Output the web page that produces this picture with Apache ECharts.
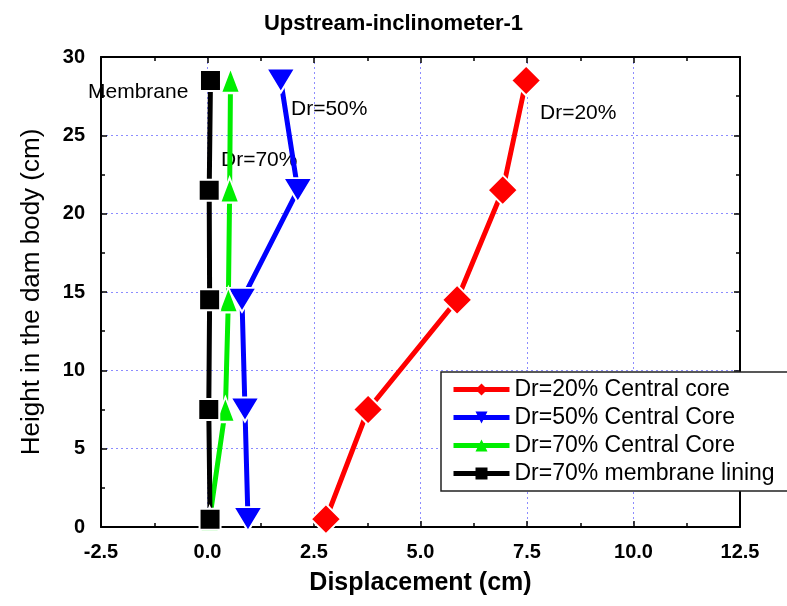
<!DOCTYPE html>
<html>
<head>
<meta charset="utf-8">
<script src="https://cdn.jsdelivr.net/npm/echarts@6/dist/echarts.min.js"></script>
<style>html,body{margin:0;padding:0;background:#fff}#c{width:787px;height:606px}</style>
</head>
<body>
<div id="c"></div>
<script>
const heights = [0.5, 7.5, 14.5, 21.5, 28.5];
const dr20Core = [2.78, 3.77, 5.86, 6.93, 7.48];
const dr50Core = [0.95, 0.88, 0.81, 2.12, 1.72];
const dr70Core = [0.05, 0.42, 0.49, 0.52, 0.54];
const dr70Membrane = [0.06, 0.03, 0.05, 0.04, 0.07];
const seriesNames = ['Dr=20% Central core', 'Dr=50% Central Core', 'Dr=70% Central Core', 'Dr=70% membrane lining'];
const xTicks = { min: -2.5, max: 12.5, interval: 2.5 };
const yTicks = { min: 0, max: 30, interval: 5 };

const FONT = 'Liberation Sans, Arial, sans-serif';
const pair = (xs) => xs.map((x, i) => [x, heights[i]]);

const chart = echarts.init(document.getElementById('c'), null, { renderer: 'canvas' });

const axisCommon = {
  axisLine: { show: true, onZero: false, lineStyle: { color: '#000', width: 2 } },
  axisTick: { show: true, inside: true, length: 6, lineStyle: { color: '#000', width: 1.5 } },
  minorTick: { show: true, splitNumber: 2, length: 4, lineStyle: { color: '#000', width: 1.5 } }
};
const gap = { borderColor: '#fff', borderWidth: 2 };

chart.setOption({
  animation: false,
  backgroundColor: '#fff',
  title: {
    text: 'Upstream-inclinometer-1',
    left: 'center', top: 8,
    textStyle: { fontFamily: FONT, fontWeight: 'bold', fontSize: 22, color: '#000' }
  },
  grid: { left: 101, right: 47, top: 57, bottom: 79 },
  xAxis: [
    Object.assign({
      type: 'value', position: 'bottom',
      min: xTicks.min, max: xTicks.max, interval: xTicks.interval,
      name: 'Displacement (cm)', nameLocation: 'middle', nameGap: 44,
      nameTextStyle: { fontFamily: FONT, fontWeight: 'bold', fontSize: 25, color: '#000' },
      axisLabel: { fontFamily: FONT, fontWeight: 'bold', fontSize: 20, color: '#000', margin: 15,
        formatter: v => v.toFixed(1) },
      splitLine: { show: true, lineStyle: { color: '#8c8cff', type: [2, 3], width: 1 } }
    }, axisCommon),
    Object.assign({
      type: 'value', position: 'top',
      min: xTicks.min, max: xTicks.max, interval: xTicks.interval,
      axisLabel: { show: false }, splitLine: { show: false }
    }, axisCommon)
  ],
  yAxis: [
    Object.assign({
      type: 'value', position: 'left',
      min: yTicks.min, max: yTicks.max, interval: yTicks.interval,
      name: 'Height in the dam body (cm)', nameLocation: 'middle', nameGap: 56, nameRotate: 90,
      nameTextStyle: { fontFamily: FONT, fontSize: 26, color: '#000' },
      axisLabel: { fontFamily: FONT, fontWeight: 'bold', fontSize: 20, color: '#000', margin: 16 },
      splitLine: { show: true, lineStyle: { color: '#8c8cff', type: [2, 3], width: 1 } }
    }, axisCommon),
    Object.assign({
      type: 'value', position: 'right',
      min: yTicks.min, max: yTicks.max, interval: yTicks.interval,
      axisLabel: { show: false }, splitLine: { show: false }
    }, axisCommon)
  ],
  legend: {
    orient: 'vertical',
    left: 441, top: 372,
    padding: [6, 60, 6, 10],
    itemWidth: 56, itemHeight: 15, itemGap: 5,
    backgroundColor: '#fff',
    borderColor: '#222', borderWidth: 1.5, borderRadius: 0,
    lineStyle: { width: 5 },
    itemStyle: { borderWidth: 0 },
    textStyle: { fontFamily: FONT, fontSize: 23, color: '#000', padding: [0, 0, 0, 0] },
    data: seriesNames
  },
  series: [
    {
      name: seriesNames[0], type: 'line', data: pair(dr20Core),
      symbol: 'diamond', symbolSize: [30, 30],
      itemStyle: Object.assign({ color: '#ff0000' }, gap),
      lineStyle: { color: '#ff0000', width: 5 }
    },
    {
      name: seriesNames[1], type: 'line', data: pair(dr50Core),
      symbol: 'triangle', symbolRotate: 180, symbolSize: [29, 24],
      itemStyle: Object.assign({ color: '#0000ff' }, gap),
      lineStyle: { color: '#0000ff', width: 5 }
    },
    {
      name: seriesNames[2], type: 'line', data: pair(dr70Core),
      symbol: 'triangle', symbolSize: [19, 25],
      itemStyle: Object.assign({ color: '#00ee00' }, gap),
      lineStyle: { color: '#00ee00', width: 5 }
    },
    {
      name: seriesNames[3], type: 'line', data: pair(dr70Membrane),
      symbol: 'rect', symbolSize: [21, 21],
      itemStyle: Object.assign({ color: '#000000' }, gap),
      lineStyle: { color: '#000000', width: 5 }
    }
  ],
  graphic: [
    { type: 'text', left: 88, top: 82, style: { text: 'Membrane', font: '21px ' + FONT, fill: '#000' } },
    { type: 'text', left: 291, top: 99, style: { text: 'Dr=50%', font: '21px ' + FONT, fill: '#000' } },
    { type: 'text', left: 221, top: 150, style: { text: 'Dr=70%', font: '21px ' + FONT, fill: '#000' } },
    { type: 'text', left: 540, top: 103, style: { text: 'Dr=20%', font: '21px ' + FONT, fill: '#000' } }
  ]
});
</script>
</body>
</html>
